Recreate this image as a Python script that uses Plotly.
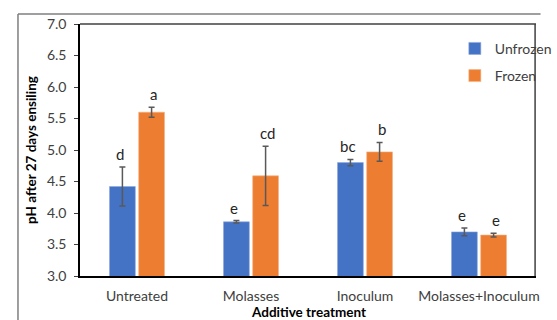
import plotly.graph_objects as go

# Mean pH per additive treatment after 27 days of ensiling
treatments = ["Untreated", "Molasses", "Inoculum", "Molasses+Inoculum"]
unfrozen_ph = [4.42, 3.86, 4.80, 3.70]
unfrozen_err = [0.31, 0.02, 0.05, 0.06]
frozen_ph = [5.60, 4.59, 4.97, 3.65]
frozen_err = [0.08, 0.47, 0.15, 0.03]

# Significance letters
unfrozen_letters = ["d", "e", "bc", "e"]
frozen_letters = ["a", "cd", "b", "e"]

BLUE = "#4472C4"
ORANGE = "#ED7D31"
ERR = "#595959"
FONT = "Lato"

fig = go.Figure()
fig.add_trace(go.Bar(
    x=treatments, y=unfrozen_ph, name="Unfrozen", legendgroup="u",
    marker=dict(color=BLUE, line=dict(color="#8EA9DB", width=0.6)),
    error_y=dict(type="data", array=unfrozen_err, color=ERR, thickness=1.5, width=3),
))
fig.add_trace(go.Bar(
    x=treatments, y=frozen_ph, name="Frozen", legendgroup="f",
    marker=dict(color=ORANGE, line=dict(color="#F4B183", width=0.6)),
    error_y=dict(type="data", array=frozen_err, color=ERR, thickness=1.5, width=3),
))

# Letters above each error bar
annotations = []
for offset, vals, errs, letters in [
    (-0.145, unfrozen_ph, unfrozen_err, unfrozen_letters),
    (0.145, frozen_ph, frozen_err, frozen_letters),
]:
    for i, (v, e, t) in enumerate(zip(vals, errs, letters)):
        annotations.append(dict(
            x=i + offset, y=v + e, xref="x", yref="y", text=t,
            showarrow=False, yanchor="bottom", yshift=2,
            font=dict(family=FONT, size=15, color="#262626"),
        ))

# x-axis title, placed below the category labels
annotations.append(dict(
    x=0.5, y=-0.143, xref="paper", yref="paper", text="<b>Additive treatment</b>",
    showarrow=False, xanchor="center", yanchor="middle",
    font=dict(family=FONT, size=13.5, color="black"),
))

# Outer chart frame (top and left edges) and plot box (top and right edges)
shapes = [
    dict(type="line", xref="paper", yref="paper", x0=-0.136, x1=1.01, y0=1.0397, y1=1.0397,
         line=dict(color="#7f7f7f", width=1.5)),
    dict(type="line", xref="paper", yref="paper", x0=-0.136, x1=-0.136, y0=-0.2, y1=1.0397,
         line=dict(color="#7f7f7f", width=1.5)),
    dict(type="line", xref="paper", yref="paper", x0=0, x1=1, y0=1, y1=1,
         line=dict(color="#404040", width=1.5)),
    dict(type="line", xref="paper", yref="paper", x0=0.998, x1=0.998, y0=0, y1=1,
         line=dict(color="#404040", width=1.5)),
]

fig.update_layout(
    width=557, height=320,
    margin=dict(l=80, r=0, t=24, b=44),
    paper_bgcolor="white", plot_bgcolor="white",
    barmode="group", bargap=0.488, bargroupgap=0.115,
    font=dict(family=FONT, size=14, color="#404040"),
    showlegend=True,
    legend=dict(
        x=0.822, y=0.965, xanchor="left", yanchor="top",
        traceorder="grouped", tracegroupgap=6, itemwidth=30,
        bgcolor="rgba(0,0,0,0)",
        font=dict(family=FONT, size=14, color="#404040"),
    ),
    xaxis=dict(
        range=[-0.5, 3.5], showline=True, linecolor="black", linewidth=1.5,
        ticks="", showgrid=False, ticklabelstandoff=6, automargin=False,
        tickfont=dict(size=14, color="#404040"),
    ),
    yaxis=dict(
        range=[3, 7], dtick=0.5, tickformat=".1f", showline=True,
        linecolor="black", linewidth=1.5, ticks="outside", ticklen=4,
        tickcolor="#404040", showgrid=False, zeroline=False,
        ticklabelstandoff=5, automargin=False,
        tickfont=dict(size=14, color="#404040"),
        title=dict(text="<b>pH after 27 days ensiling</b>", standoff=7,
                   font=dict(family=FONT, size=13.5, color="black")),
    ),
    annotations=annotations,
    shapes=shapes,
)

fig.write_html("out.html")
